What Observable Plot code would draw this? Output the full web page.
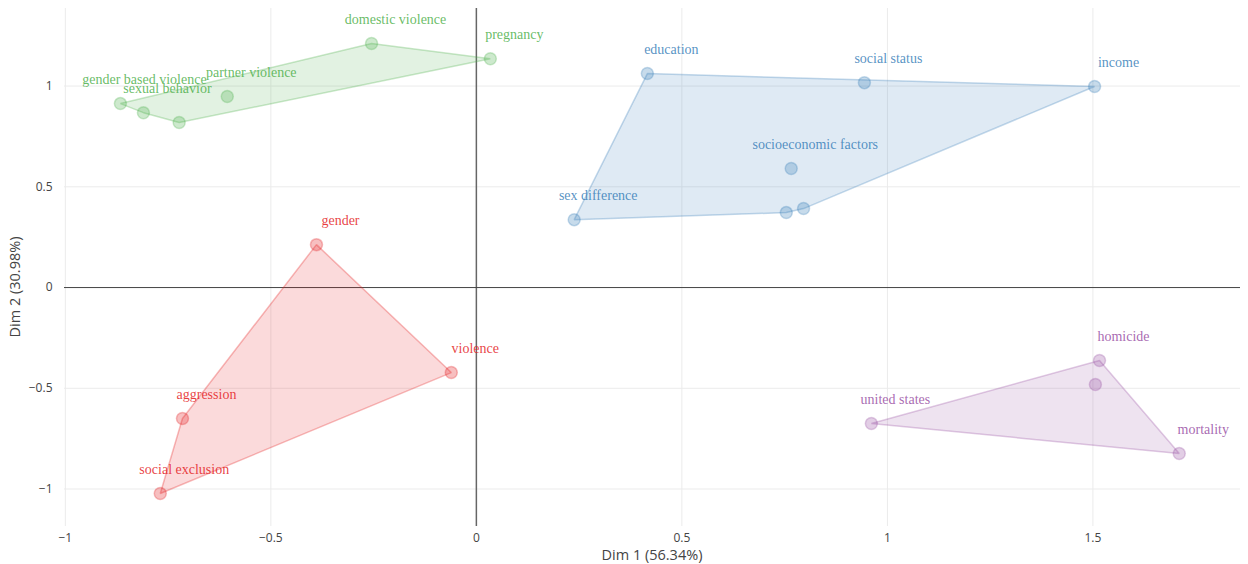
<!DOCTYPE html>
<html>
<head>
<meta charset="utf-8">
<script src="https://cdn.jsdelivr.net/npm/d3@7"></script>
<script src="https://cdn.jsdelivr.net/npm/@observablehq/plot@0.6"></script>
<style>
  html, body { margin: 0; padding: 0; background: #fff; }
  #chart svg { display: block; }
</style>
</head>
<body>
<div id="chart"></div>
<script>
const labels = ["domestic violence","pregnancy","gender based violence","sexual behavior","","partner violence",
  "education","social status","income","socioeconomic factors","sex difference","","",
  "gender","violence","aggression","social exclusion",
  "homicide","","united states","mortality"];
const dim1 = [-0.255, 0.034, -0.866, -0.810, -0.723, -0.606,
  0.416, 0.944, 1.504, 0.766, 0.238, 0.754, 0.796,
  -0.389, -0.061, -0.715, -0.769,
  1.516, 1.506, 0.961, 1.710];
const dim2 = [1.211, 1.136, 0.913, 0.868, 0.819, 0.948,
  1.062, 1.017, 0.998, 0.591, 0.337, 0.372, 0.392,
  0.213, -0.422, -0.650, -1.022,
  -0.362, -0.481, -0.675, -0.824];
const cluster = ["1","1","1","1","1","1",
  "2","2","2","2","2","2","2",
  "3","3","3","3",
  "4","4","4","4"];
const clusterNames = ["1","2","3","4"];
const clusterColors = ["#4daf4a","#377eb8","#e41a1c","#984ea3"];
const xTicks = [-1, -0.5, 0, 0.5, 1, 1.5];
const yTicks = [-1, -0.5, 0, 0.5, 1];
const xTitle = "Dim 1 (56.34%)";
const yTitle = "Dim 2 (30.98%)";

const data = labels.map((l, i) => ({label: l, x: dim1[i], y: dim2[i], cluster: cluster[i]}));
const fmt = d => d === 0 ? "0" : (d < 0 ? "\u2212" : "") + String(Math.abs(d));

const chart = Plot.plot({
  width: 1248,
  height: 564,
  marginLeft: 64,
  marginRight: 8,
  marginTop: 8,
  marginBottom: 38,
  style: {fontFamily: "'Open Sans', sans-serif", fontSize: "12px", color: "#444", background: "#fff"},
  x: {domain: [-1.002, 1.859], ticks: xTicks, tickFormat: fmt, tickSize: 0, tickPadding: 7, label: null},
  y: {domain: [-1.186, 1.385], ticks: yTicks, tickFormat: fmt, tickSize: 0, tickPadding: 12, label: null},
  color: {domain: clusterNames, range: clusterColors},
  marks: [
    Plot.gridX(xTicks.filter(d => d !== 0), {stroke: "#ebebeb", strokeOpacity: 1}),
    Plot.gridY(yTicks.filter(d => d !== 0), {stroke: "#ebebeb", strokeOpacity: 1}),
    Plot.ruleX([0], {stroke: "#666", strokeWidth: 1.5}),
    Plot.ruleY([0], {stroke: "#444", strokeWidth: 1}),
    Plot.hull(data, {x: "x", y: "y", z: "cluster", fill: "cluster", fillOpacity: 0.16, stroke: "cluster", strokeOpacity: 0.3, strokeWidth: 1.5}),
    Plot.dot(data, {x: "x", y: "y", r: 6, fill: "cluster", fillOpacity: 0.28, stroke: "cluster", strokeOpacity: 0.28, strokeWidth: 1.5}),
    Plot.text(data.filter(d => d.label), {x: "x", y: "y", text: "label", fill: "cluster", fillOpacity: 0.85, dx: 24, dy: -24,
      fontFamily: "'Liberation Serif', 'Times New Roman', serif", fontSize: 14}),
    Plot.axisX({ticks: xTicks, tickFormat: fmt, tickSize: 0, tickPadding: 7, fill: "#444", fontSize: 12, label: null}),
    Plot.axisY({ticks: yTicks, tickFormat: fmt, tickSize: 0, tickPadding: 12, fill: "#444", fontSize: 12, label: null}),
  ]
});

const svg = d3.select(chart);
svg.append("text").attr("x", 652).attr("y", 560).attr("text-anchor", "middle")
  .attr("font-family", "'Open Sans', sans-serif").attr("font-size", 14.5).attr("fill", "#444").text(xTitle);
svg.append("text").attr("transform", "translate(20,287) rotate(-90)").attr("text-anchor", "middle")
  .attr("font-family", "'Open Sans', sans-serif").attr("font-size", 14.5).attr("fill", "#444").text(yTitle);

document.getElementById("chart").appendChild(chart);
</script>
</body>
</html>
